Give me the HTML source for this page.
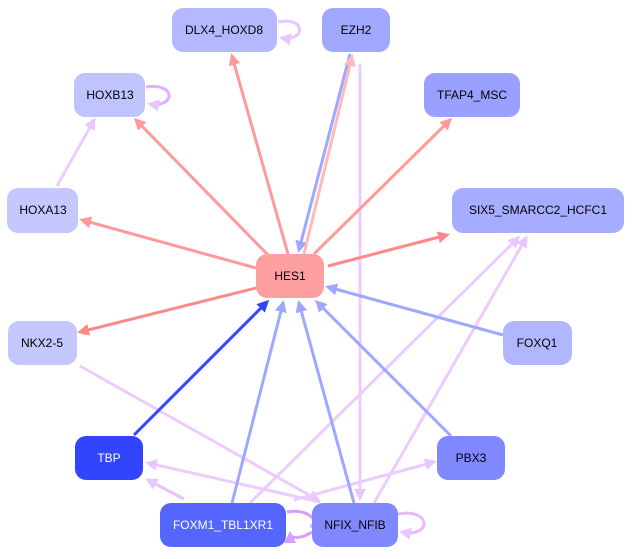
<!DOCTYPE html>
<html><head><meta charset="utf-8"><style>
body{margin:0;background:#fff;width:632px;height:554px;overflow:hidden}
text{font-family:"Liberation Sans",sans-serif;font-size:12px;text-anchor:middle;dominant-baseline:central}
</style></head><body>
<svg width="632" height="554" viewBox="0 0 632 554" xmlns="http://www.w3.org/2000/svg">
<defs>
<marker id="r" markerWidth="4" markerHeight="4" refX="3" refY="2" orient="auto" markerUnits="strokeWidth"><path d="M0,0L4,2L0,4z" fill="#ff9a9a"/></marker>
<marker id="r2" markerWidth="4" markerHeight="4" refX="3" refY="2" orient="auto" markerUnits="strokeWidth"><path d="M0,0L4,2L0,4z" fill="#ff8888"/></marker>
<marker id="rl" markerWidth="4" markerHeight="4" refX="3" refY="2" orient="auto" markerUnits="strokeWidth"><path d="M0,0L4,2L0,4z" fill="#ffbbbb"/></marker>
<marker id="b" markerWidth="4" markerHeight="4" refX="3" refY="2" orient="auto" markerUnits="strokeWidth"><path d="M0,0L4,2L0,4z" fill="#9fa8ff"/></marker>
<marker id="d" markerWidth="4" markerHeight="4" refX="3" refY="2" orient="auto" markerUnits="strokeWidth"><path d="M0,0L4,2L0,4z" fill="#3344ff"/></marker>
<marker id="l" markerWidth="4" markerHeight="4" refX="3" refY="2" orient="auto" markerUnits="strokeWidth"><path d="M0,0L4,2L0,4z" fill="#e8c6ff"/></marker>
<marker id="lp" markerWidth="4" markerHeight="4" refX="3" refY="2" orient="auto" markerUnits="strokeWidth"><path d="M0,0L4,2L0,4z" fill="#d99cff"/></marker>
</defs>
<g fill="none" stroke-width="3">
<line x1="360" y1="64" x2="360" y2="498" stroke="#ecccff" marker-end="url(#l)"/>
<line x1="80" y1="366" x2="318" y2="500" stroke="#ecccff" marker-end="url(#l)"/>
<line x1="250" y1="503" x2="518" y2="238" stroke="#ecccff" marker-end="url(#l)"/>
<line x1="374" y1="503" x2="526" y2="238" stroke="#ecccff" marker-end="url(#l)"/>
<line x1="320" y1="502" x2="148" y2="463" stroke="#ecccff" marker-end="url(#l)"/>
<line x1="184" y1="499" x2="148" y2="480" stroke="#e8c0ff" marker-end="url(#l)"/>
<line x1="294" y1="500" x2="434" y2="462" stroke="#ecccff" marker-end="url(#l)"/>
<line x1="57" y1="186" x2="94" y2="120" stroke="#ecccff" marker-end="url(#l)"/>
<path d="M278,22 C306,16 306,42 282,38" stroke="#e8c6ff" marker-end="url(#l)"/>
<path d="M146,87 C176,82 176,108 150,104" stroke="#dfb0ff" marker-end="url(#l)"/>
<path d="M398,514 C432,508 432,538 402,532" stroke="#e4bcff" marker-end="url(#l)"/>
<path d="M287,512 C305,508 320,520 312,526" stroke="#d99cff" marker-end="url(#lp)"/>
<path d="M312,532 C300,540 290,538 290,534" stroke="#d99cff" marker-end="url(#lp)"/>
<line x1="288" y1="254" x2="232" y2="56" stroke="#ff9a9a" marker-end="url(#r)"/>
<line x1="350" y1="54" x2="299" y2="250" stroke="#9fa8ff" marker-end="url(#b)"/>
<line x1="304" y1="254" x2="352" y2="57" stroke="#ffbbbb" marker-end="url(#rl)"/>
<line x1="268" y1="255" x2="136" y2="120" stroke="#ff9a9a" marker-end="url(#r)"/>
<line x1="314" y1="254" x2="450" y2="120" stroke="#ff9a9a" marker-end="url(#r)"/>
<line x1="256" y1="268" x2="82" y2="220" stroke="#ff9a9a" marker-end="url(#r)"/>
<line x1="328" y1="266" x2="447" y2="235" stroke="#ff8888" marker-end="url(#r2)"/>
<line x1="256" y1="288" x2="80" y2="332" stroke="#ff8888" marker-end="url(#r2)"/>
<line x1="503" y1="335" x2="328" y2="287" stroke="#9fa8ff" marker-end="url(#b)"/>
<line x1="134" y1="435" x2="267" y2="302" stroke="#3344ff" marker-end="url(#d)"/>
<line x1="232" y1="503" x2="283" y2="303" stroke="#9fa8ff" marker-end="url(#b)"/>
<line x1="354" y1="503" x2="299" y2="303" stroke="#9fa8ff" marker-end="url(#b)"/>
<line x1="451" y1="436" x2="317" y2="302" stroke="#9fa8ff" marker-end="url(#b)"/>
</g>
<g>
<rect x="172" y="8" width="105" height="44" rx="11" fill="#b3b8ff"/><text x="224" y="30">DLX4_HOXD8</text>
<rect x="322" y="8" width="68" height="44" rx="11" fill="#a0a8ff"/><text x="356" y="30">EZH2</text>
<rect x="74" y="73" width="71" height="44" rx="11" fill="#bfc4ff"/><text x="110" y="95">HOXB13</text>
<rect x="424" y="73" width="96" height="44" rx="11" fill="#99a0ff"/><text x="472" y="95">TFAP4_MSC</text>
<rect x="7" y="188" width="71" height="45" rx="11" fill="#c4c8ff"/><text x="43" y="210">HOXA13</text>
<rect x="452" y="188" width="172" height="45" rx="11" fill="#a6acff"/><text x="538" y="210">SIX5_SMARCC2_HCFC1</text>
<rect x="256" y="254" width="68" height="44" rx="11" fill="#ffa0a0"/><text x="290" y="276">HES1</text>
<rect x="8" y="321" width="69" height="44" rx="11" fill="#c4c8ff"/><text x="42" y="343">NKX2-5</text>
<rect x="503" y="321" width="69" height="44" rx="11" fill="#b0b6ff"/><text x="537" y="343">FOXQ1</text>
<rect x="75" y="436" width="68" height="44" rx="11" fill="#3344ff"/><text x="109" y="458" fill="#fff">TBP</text>
<rect x="437" y="436" width="68" height="44" rx="11" fill="#8088ff"/><text x="471" y="458">PBX3</text>
<rect x="160" y="503" width="126" height="44" rx="11" fill="#5566ff"/><text x="223" y="525" fill="#fff">FOXM1_TBL1XR1</text>
<rect x="312" y="503" width="86" height="44" rx="11" fill="#8088ff"/><text x="355" y="525">NFIX_NFIB</text>
</g>
</svg>
</body></html>
